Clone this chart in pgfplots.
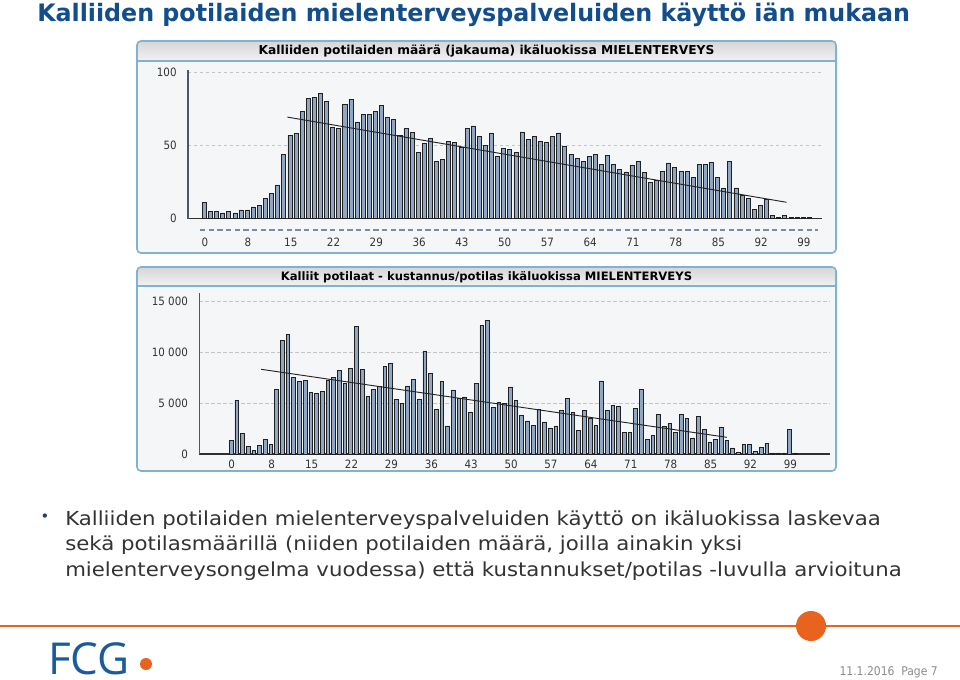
\documentclass[border=0pt]{standalone}
\usepackage{fontspec}
\setmainfont{DejaVu Sans}
\newfontfamily\condfont{DejaVu Sans Condensed}
\newfontfamily\titlefont{DejaVu Sans Condensed}[FakeStretch=1.1]
\newfontfamily\bodyfont{DejaVu Sans}[FakeStretch=1.1]
\newfontfamily\logofont{Open Sans}
\usepackage{pgfplots}
\usepackage{pgfplotstable}
\pgfplotsset{compat=1.18}

\definecolor{titleblue}{HTML}{124E8C}
\definecolor{bodycol}{HTML}{333333}
\definecolor{bulletcol}{HTML}{1F3F6B}
\definecolor{barfill}{HTML}{8FA6C4}
\definecolor{barline}{HTML}{202020}
\definecolor{panelbg}{HTML}{F5F6F8}
\definecolor{panelborder}{HTML}{7DB3D3}
\definecolor{hdrtop}{HTML}{D6D6D6}
\definecolor{hdrbot}{HTML}{F2F2F2}
\definecolor{gridcol}{HTML}{C4C4C4}
\definecolor{axiscol}{HTML}{4A5868}
\definecolor{basecol}{HTML}{303030}
\definecolor{dashcol}{HTML}{7A8BA8}
\definecolor{tickcol}{HTML}{333333}
\definecolor{orange1}{HTML}{E8641E}
\definecolor{fcgblue}{HTML}{1D5A9C}
\definecolor{datecol}{HTML}{8C8C8C}

\pgfplotstableread{
x y
0 11
1 5
2 5
3 4
4 5
5 4
6 6
7 6
8 8
9 9
10 14
11 17
12 23
13 44
14 57
15 58
16 73
17 82
18 83
19 85.5
20 80
21 62
22 61.5
23 78
24 81.5
25 66
26 71
27 71
28 73
29 77
30 69
31 68
32 57
33 61.5
34 59
35 45
36 51.5
37 55
38 39
39 40.5
40 53
41 52
42 49
43 61.5
44 63.3
45 56
46 50
47 58.5
48 42.6
49 47.8
50 47.2
51 45.1
52 59.2
53 54.3
54 56.2
55 52.7
56 52.2
57 56.3
58 58.5
59 49.4
60 44
61 41.2
62 39
63 42.6
64 43.8
65 36.9
66 43.2
67 36.9
68 33.4
69 31.9
70 36.2
71 38.8
72 31.5
73 24.6
74 26.2
75 32.2
76 38.1
77 35
78 32.2
79 32.2
80 28.2
81 36.9
82 36.9
83 38.3
84 28.2
85 21
86 39
87 21
88 15.7
89 13.8
90 6.3
91 9.2
92 13
93 2.2
94 0.8
95 2.2
96 0.6
97 0.6
98 0.6
99 0.6
}\topdata

\pgfplotstableread{
x y
0 1340
1 5280
2 1990
3 770
4 390
5 850
6 1420
7 950
8 6300
9 11140
10 11730
11 7520
12 7140
13 7220
14 6060
15 5930
16 6110
17 7270
18 7480
19 8170
20 6960
21 8430
22 12480
23 8270
24 5620
25 6370
26 6630
27 8610
28 8890
29 5360
30 4980
31 6680
32 7320
33 5360
34 10110
35 7910
36 4410
37 7120
38 2750
39 6290
40 5460
41 5600
42 4130
43 6880
44 12570
45 13120
46 4580
47 5080
48 5000
49 6570
50 5260
51 3760
52 3240
53 2840
54 4410
55 3140
56 2550
57 2750
58 4250
59 5460
60 4050
61 2290
62 4250
63 3500
64 2840
65 7160
66 4250
67 4770
68 4710
69 2090
70 2090
71 4510
72 6310
73 1470
74 1830
75 3860
76 2710
77 3040
78 2120
79 3860
80 3500
81 1570
82 3660
83 2390
84 1180
85 1470
86 2650
87 1370
88 590
89 200
90 950
91 950
92 290
93 650
94 1050
95 100
96 100
97 100
98 2450
99 100
}\botdata

\pgfplotsset{
  panelaxis/.style={
    scale only axis,
    axis lines=left,
    axis line style={-},
    every outer x axis line/.append style={-},
    every outer y axis line/.append style={-},
    x axis line style={draw=basecol, line width=1.1pt},
    y axis line style={draw=axiscol, line width=1.1pt},
    ymajorgrids,
    grid style={gridcol, dash pattern=on 2.5pt off 2pt, line width=0.6pt},
    major tick length=0pt,
    scaled y ticks=false,
    xtick={0.1,7.15,14.15,21.15,28.15,35.15,42.15,49.15,56.15,63.15,70.15,77.15,84.15,91.15,98.15},
    xticklabels={0,8,15,22,29,36,43,50,57,64,71,78,85,92,99},
    tick label style={font=\condfont\fontsize{8.6}{9}\selectfont, text=tickcol},
    /pgf/number format/assume math mode=true,
  },
  panelbars/.style={ybar, bar width=0.66, fill=barfill, draw=barline, line width=0.5pt},
}

\begin{document}
\begin{tikzpicture}[x=0.75pt,y=-0.75pt]
\path[use as bounding box, fill=white] (0,0) rectangle (960,679);

% Title
\node[anchor=base west, inner sep=0, text=titleblue, font=\titlefont\bfseries\fontsize{18}{20}\selectfont] at (37,21.5) {Kalliiden potilaiden mielenterveyspalveluiden käyttö iän mukaan};

% Top panel
\begin{scope}
\clip[rounded corners=3pt] (137,41) rectangle (836,253);
\fill[panelbg] (137,41) rectangle (836,253);
\shade[top color=hdrtop, bottom color=hdrbot] (137,41) rectangle (836,61);
\draw[panelborder, line width=0.8pt] (137,61) -- (836,61);
\end{scope}
\draw[panelborder, line width=1.2pt, rounded corners=3pt] (137,41) rectangle (836,253);
\node[font=\bfseries\fontsize{9.2}{10}\selectfont, text=black] at (486.5,51) {Kalliiden potilaiden määrä (jakauma) ikäluokissa MIELENTERVEYS};

% Bottom panel
\begin{scope}
\clip[rounded corners=3pt] (137,267) rectangle (836,471);
\fill[panelbg] (137,267) rectangle (836,471);
\shade[top color=hdrtop, bottom color=hdrbot] (137,267) rectangle (836,286);
\draw[panelborder, line width=0.8pt] (137,286) -- (836,286);
\end{scope}
\draw[panelborder, line width=1.2pt, rounded corners=3pt] (137,267) rectangle (836,471);
\node[font=\bfseries\fontsize{8.7}{10}\selectfont, text=black] at (486.5,277) {Kalliit potilaat - kustannus/potilas ikäluokissa MIELENTERVEYS};

% dashed line under top chart
\draw[dashcol, line width=1.4pt, dash pattern=on 4pt off 2.5pt] (200,230) -- (818,230);

\begin{scope}[x=1cm, y=1cm]
% Top axis
\begin{axis}[panelaxis,
  at={(141pt,-164.025pt)}, anchor=south west,
  width=475.5pt, height=111.5pt,
  xmin=-2.67, xmax=101.1, ymin=0, ymax=101.4,
  ytick={0,50,100}, yticklabels={0,50,100},
  xticklabel style={yshift=-11pt},
  yticklabel style={xshift=-5pt},
]
\addplot[panelbars] table[x=x,y=y]{\topdata};
\addplot[black!85, line width=0.7pt, no marks] coordinates {(13.6,69.3) (95.3,11.2)};
\end{axis}

% Bottom axis
\begin{axis}[panelaxis,
  at={(149.475pt,-340.5pt)}, anchor=south west,
  width=473pt, height=120.75pt,
  xmin=-5.56, xmax=105.1, ymin=0, ymax=15784,
  ytick={0,5000,10000,15000}, yticklabels={0,5 000,10 000,15 000},
  xticklabel style={yshift=-1pt},
  yticklabel style={xshift=-5pt},
]
\addplot[panelbars, bar width=0.65] table[x=x,y=y]{\botdata};
\addplot[black!85, line width=0.7pt, no marks] coordinates {(5.3,8304) (87,1637)};
\end{axis}
\end{scope}

% Bullet text
\node[text=bulletcol, font=\fontsize{11}{11}\selectfont] at (45,518) {•};
\node[anchor=base west, inner sep=0, text=bodycol, font=\bodyfont\fontsize{14.5}{16}\selectfont] at (65,525) {Kalliiden potilaiden mielenterveyspalveluiden käyttö on ikäluokissa laskevaa};
\node[anchor=base west, inner sep=0, text=bodycol, font=\bodyfont\fontsize{14.5}{16}\selectfont] at (65,550.5) {sekä potilasmäärillä (niiden potilaiden määrä, joilla ainakin yksi};
\node[anchor=base west, inner sep=0, text=bodycol, font=\bodyfont\fontsize{14.5}{16}\selectfont] at (65,576) {mielenterveysongelma vuodessa) että kustannukset/potilas -luvulla arvioituna};

% Footer
\draw[orange1, line width=1.5pt] (0,626) -- (960,626);
\fill[orange1] (811,626) circle[radius=15];
\node[anchor=base west, inner sep=0, text=fcgblue, font=\logofont\fontsize{33}{33}\selectfont] at (48,674) {FCG};
\fill[orange1] (146,664) circle[radius=6];
\node[anchor=base east, inner sep=0, text=datecol, font=\condfont\fontsize{9}{10}\selectfont] at (938,675) {11.1.2016\ \ Page 7};
\end{tikzpicture}
\end{document}
